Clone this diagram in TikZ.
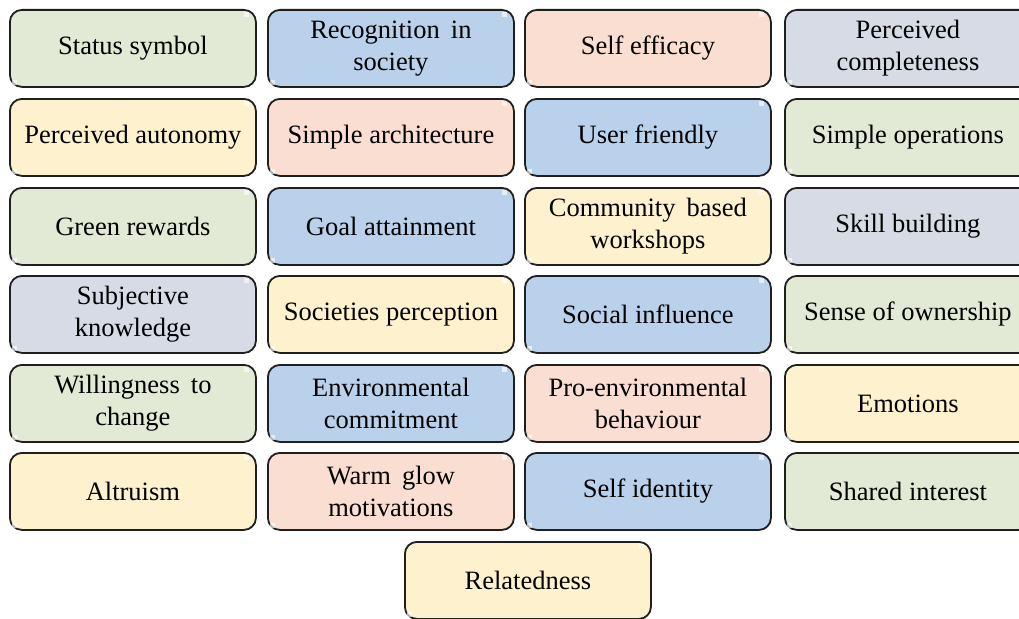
\documentclass[tikz,border=0pt]{standalone}
\usepackage{fontspec}
\setmainfont{Liberation Serif}
\definecolor{cgreen}{HTML}{E2EAD6}
\definecolor{cblue}{HTML}{B9D1EA}
\definecolor{csalmon}{HTML}{FBDED2}
\definecolor{cgray}{HTML}{D6DBE6}
\definecolor{cyellow}{HTML}{FEF1CD}
\newcommand{\wsp}{\hspace{0.42em}}
\begin{document}
\begin{tikzpicture}[x=1pt,y=-1pt,
  cell/.style={draw=black!88, line width=1.8pt, rounded corners=12pt,
    minimum width=246pt, minimum height=77pt, inner sep=0pt,
    align=center, anchor=north west,
    font=\fontsize{26.5}{32}\selectfont},
  green/.style={cell, fill=cgreen},
  blue/.style={cell, fill=cblue},
  salmon/.style={cell, fill=csalmon},
  gray/.style={cell, fill=cgray},
  yellow/.style={cell, fill=cyellow},
  glint/.style={fill=white, opacity=0.65}]
\path[use as bounding box, clip] (0,0) rectangle (1019,618);
\fill[white] (0,0) rectangle (1019,618);
% row 1
\node[green]  (statussymbol) at (9,9)    {Status symbol};
\node[blue]   (recognition)  at (267,9)  {Recognition\wsp in\\society};
\node[salmon] (selfefficacy) at (524,9)  {Self efficacy};
\node[gray]   (completeness) at (784,9)  {Perceived\\completeness};
% row 2
\node[yellow] (autonomy)     at (9,98)   {Perceived autonomy};
\node[salmon] (architecture) at (267,98) {Simple architecture};
\node[blue]   (userfriendly) at (524,98) {User friendly};
\node[green]  (operations)   at (784,98) {Simple operations};
% row 3
\node[green]  (rewards)      at (9,187)   {Green rewards};
\node[blue]   (goal)         at (267,187) {Goal attainment};
\node[yellow] (workshops)    at (524,187) {Community\wsp based\\workshops};
\node[gray]   (skill)        at (784,187) {Skill building};
% row 4
\node[gray]   (knowledge)    at (9,275)   {Subjective\\knowledge};
\node[yellow] (perception)   at (267,275) {Societies perception};
\node[blue]   (influence)    at (524,275) {Social influence};
\node[green]  (ownership)    at (784,275) {Sense of ownership};
% row 5
\node[green]  (willingness)  at (9,364)   {Willingness\wsp to\\change};
\node[blue]   (commitment)   at (267,364) {Environmental\\commitment};
\node[salmon] (proenv)       at (524,364) {Pro-environmental\\behaviour};
\node[yellow] (emotions)     at (784,364) {Emotions};
% row 6
\node[yellow] (altruism)     at (9,452)   {Altruism};
\node[salmon] (warmglow)     at (267,452) {Warm\wsp glow\\motivations};
\node[blue]   (identity)     at (524,452) {Self identity};
\node[green]  (shared)       at (784,452) {Shared interest};
% row 7
\node[yellow] (relatedness)  at (404,541) {Relatedness};
% small light glints inside the corners of each box
\foreach \n in {statussymbol,recognition,selfefficacy,completeness,
  autonomy,architecture,userfriendly,operations,
  rewards,goal,workshops,skill,
  knowledge,perception,influence,ownership,
  willingness,commitment,proenv,emotions,
  altruism,warmglow,identity,shared,relatedness} {
  \fill[glint] ([xshift=-8pt,yshift=-3pt]\n.north east) rectangle ++(-5pt,-5pt);
  \fill[glint] ([xshift=3pt,yshift=3pt]\n.south west) rectangle ++(5pt,5pt);
}
\end{tikzpicture}
\end{document}
